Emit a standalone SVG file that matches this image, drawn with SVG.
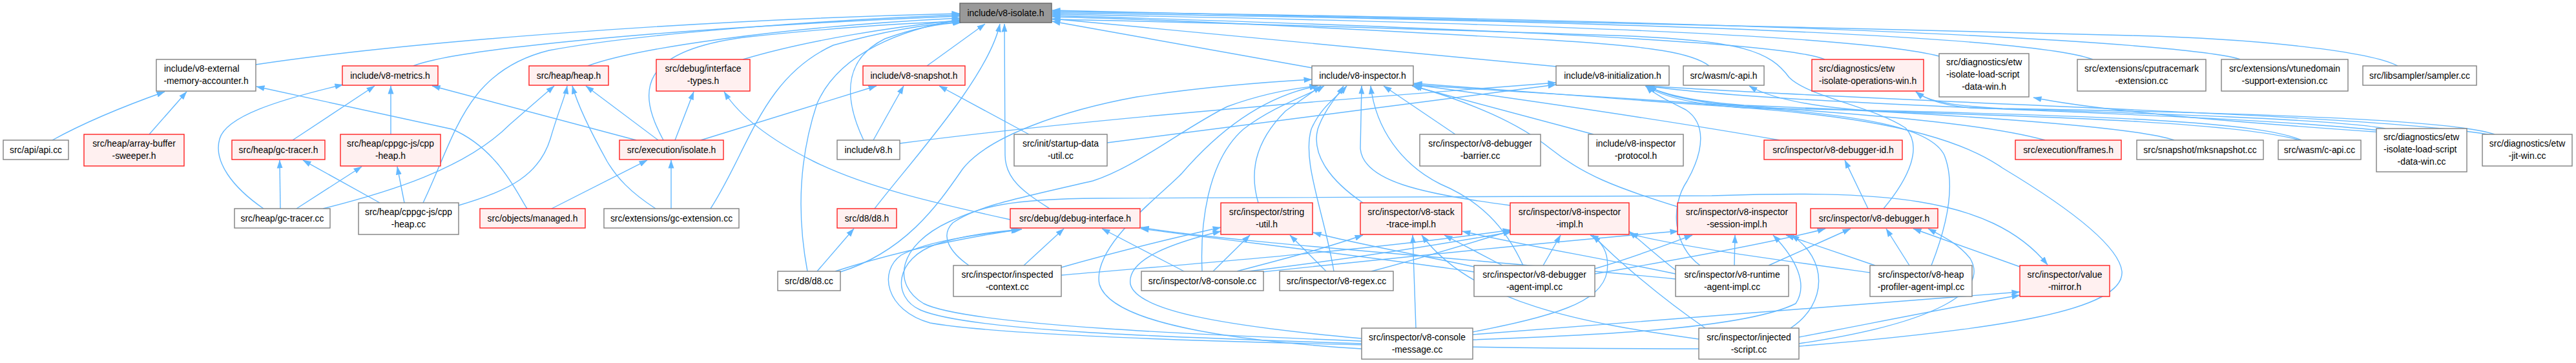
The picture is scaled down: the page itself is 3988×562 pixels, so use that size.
<svg xmlns="http://www.w3.org/2000/svg" width="3988" height="562" viewBox="0 0 3988 562">
<style>
.e path{fill:none;stroke:#63b8ff;stroke-width:1.4;marker-end:url(#ah)}
.n rect{fill:#ffffff;stroke:#808080;stroke-width:1.4}
.r rect{fill:#fff0f0;stroke:#ff2020;stroke-width:1.4}
.root rect{fill:#999999;stroke:#666666;stroke-width:1.4}
text{font-family:"Liberation Sans",Arial,sans-serif;font-size:13.9px;fill:#000;text-anchor:middle}
text.s{text-anchor:start}
</style>
<defs>
<marker id="ah" viewBox="0 0 13 10" refX="12.5" refY="5" markerWidth="13" markerHeight="10" markerUnits="userSpaceOnUse" orient="auto"><path d="M0,0.5 L13,5 L0,9.5 z" fill="#63b8ff"/></marker>
</defs>
<rect x="0" y="0" width="3988" height="562" fill="#ffffff"/>
<g id="edges" class="e">
<path d="M396,100 C650,62 1100,30 1486,21"/>
<path d="M640,102 C700,78 1000,45 1486,25"/>
<path d="M910,102 C980,76 1200,42 1486,28"/>
<path d="M1150,92 C1250,62 1380,42 1486,31"/>
<path d="M1027,217 C985,140 990,80 1150,58 C1300,42 1420,35 1487,33"/>
<path d="M655,314 C705,210 720,110 850,78 C1000,50 1300,30 1486,23"/>
<path d="M1100,323 C1160,230 1180,120 1290,70 C1380,45 1440,37 1487,34"/>
<path d="M1337,217 C1310,160 1300,95 1370,60 C1420,42 1460,36 1488,35"/>
<path d="M1435,102 L1525,37"/>
<path d="M1354,323 C1410,250 1530,120 1548,37"/>
<path d="M1625,323 C1590,300 1556,280 1556,240 L1555,37"/>
<path d="M1250,420 C1235,340 1235,250 1265,160 C1300,80 1400,45 1487,30"/>
<path d="M2031,105 L1629,33"/>
<path d="M2410,103 L1629,29"/>
<path d="M2646,102 C2620,82 2560,72 2400,62 C2100,45 1800,30 1629,26"/>
<path d="M2825,92 C2780,72 2500,50 1629,24"/>
<path d="M3002,87 C2900,60 2500,38 1629,22"/>
<path d="M3240,92 C3180,70 2900,38 1629,20"/>
<path d="M3468,92 C3420,74 3000,35 1629,18"/>
<path d="M3712,102 C3670,80 3500,60 3300,55 C2700,40 2000,22 1629,16"/>
<path d="M2916,323 C2960,270 2975,225 2950,198 C2900,165 2800,150 2770,120 C2740,80 2700,62 2500,55 C2200,45 1900,35 1629,30"/>
<path d="M81,217 C130,190 190,165 255,142"/>
<path d="M231,208 L289,142"/>
<path d="M453,217 L580,133"/>
<path d="M605,208 L605,133"/>
<path d="M985,217 L669,133"/>
<path d="M408,323 C360,290 330,250 340,215 C350,180 430,155 531,131"/>
<path d="M434,323 L433,248"/>
<path d="M588,314 L469,248"/>
<path d="M459,323 L560,258"/>
<path d="M626,314 L615,258"/>
<path d="M500,323 C600,298 720,262 790,192 L858,133"/>
<path d="M710,318 C790,295 835,270 852,215 C865,170 875,150 878,133"/>
<path d="M1015,323 C975,297 955,275 940,250 C915,205 895,165 886,133"/>
<path d="M1019,217 L907,133"/>
<path d="M816,323 C800,298 770,230 700,200 L397,134"/>
<path d="M854,323 L1002,248"/>
<path d="M1039,323 L1039,248"/>
<path d="M1045,217 L1074,142"/>
<path d="M1085,217 L1357,133"/>
<path d="M1564,340 C1450,315 1340,290 1260,250 C1190,215 1145,180 1121,142"/>
<path d="M1352,217 L1399,133"/>
<path d="M1593,208 L1454,133"/>
<path d="M1301,421 C1400,390 1450,320 1490,262 C1530,210 1650,170 1760,150 C1860,135 1960,127 2031,123"/>
<path d="M1393,222 C1700,182 2100,152 2409,128"/>
<path d="M1714,221 C1900,195 2200,160 2409,131"/>
<path d="M1265,420 L1322,354"/>
<path d="M1293,420 C1380,392 1480,370 1580,355"/>
<path d="M1585,411 L1647,354"/>
<path d="M1643,414 C1720,392 1800,372 1890,352"/>
<path d="M1643,426 C1800,412 2100,390 2339,356"/>
<path d="M1500,411 C1470,390 1455,365 1475,345 C1510,320 1570,308 1692,280 C1760,258 1830,200 1900,165 C1960,143 2010,136 2040,133"/>
<path d="M1833,420 L1706,354"/>
<path d="M1878,420 L1935,364"/>
<path d="M1861,420 C1858,350 1868,250 1925,200 C1970,165 2030,145 2050,133"/>
<path d="M1915,420 C1990,400 2050,385 2110,364"/>
<path d="M1925,421 C2100,400 2250,375 2340,359"/>
<path d="M1935,423 C2200,395 2450,370 2598,358"/>
<path d="M2053,420 L1997,364"/>
<path d="M2065,420 C2050,330 2015,250 2030,200 C2045,165 2070,150 2085,133"/>
<path d="M2123,420 C2200,400 2280,375 2340,357"/>
<path d="M2326,411 L2236,364"/>
<path d="M2389,411 L2416,364"/>
<path d="M2469,416 C2540,395 2590,375 2620,364"/>
<path d="M2358,411 C2330,350 2290,310 2230,285 C2170,255 2130,200 2122,133"/>
<path d="M2282,421 C2100,395 1900,372 1766,354"/>
<path d="M2282,413 C2200,395 2100,378 2033,360"/>
<path d="M2469,424 C2620,398 2760,372 2826,354"/>
<path d="M2685,411 L2686,364"/>
<path d="M2738,411 L2865,354"/>
<path d="M2594,418 C2570,400 2548,380 2522,358"/>
<path d="M2594,424 C2480,400 2350,378 2264,358"/>
<path d="M2594,432 C2300,402 1900,375 1766,352"/>
<path d="M2632,411 C2590,380 2585,320 2612,280 C2640,230 2640,190 2610,170 C2580,155 2560,145 2548,133"/>
<path d="M2956,411 L2920,354"/>
<path d="M2903,411 L2765,364"/>
<path d="M2895,422 C2750,402 2600,382 2523,362"/>
<path d="M2990,411 C3010,360 3030,290 3010,240 C2990,200 2900,180 2700,165 C2500,150 2300,140 2189,131"/>
<path d="M3127,413 L2962,354"/>
<path d="M2108,528 C1900,520 1500,505 1430,470 C1380,440 1390,380 1470,343 C1520,320 1560,308 1700,307 L2650,303 C2900,295 3080,300 3170,410"/>
<path d="M2280,518 C2600,495 2900,470 3127,452"/>
<path d="M2280,526 C2450,520 2700,510 2780,470 C2800,440 2780,400 2745,364"/>
<path d="M2785,522 C2900,500 3050,470 3127,457"/>
<path d="M2772,508 C2830,470 2830,400 2773,364"/>
<path d="M2785,532 C3000,500 3080,450 3050,400 C3030,375 3000,362 2985,354"/>
<path d="M2785,536 C3100,510 3290,480 3285,420 C3280,380 3200,320 3100,260 C3000,190 2800,172 2600,160 L2189,129"/>
<path d="M2630,525 C2450,500 2280,470 2201,364"/>
<path d="M2640,508 C2570,460 2500,400 2466,364"/>
<path d="M2280,514 C2400,490 2480,470 2488,420 C2492,390 2478,372 2462,364"/>
<path d="M2192,508 L2187,364"/>
<path d="M2108,532 C1800,522 1500,512 1425,480 C1380,460 1385,400 1450,378 C1500,362 1550,358 1582,355"/>
<path d="M2630,540 C2300,540 1600,528 1440,500 C1370,480 1360,420 1395,395 C1440,370 1540,360 1578,356"/>
<path d="M2108,524 C1900,505 1760,482 1750,440 C1744,400 1820,375 1890,358"/>
<path d="M2108,540 C1900,527 1720,500 1702,440 C1690,380 1800,300 1830,268 C1880,210 1950,150 2040,133"/>
<path d="M1948,314 C1935,270 1940,222 1990,172 L2045,133"/>
<path d="M2110,314 C2060,280 2030,240 2040,200 C2050,170 2070,150 2080,133"/>
<path d="M2338,318 C2200,300 2110,280 2106,230 L2108,133"/>
<path d="M2597,320 C2500,290 2450,270 2400,230 C2350,190 2280,160 2189,133"/>
<path d="M2892,323 L2856,248"/>
<path d="M2755,217 C2600,190 2400,160 2189,131"/>
<path d="M2253,208 L2142,133"/>
<path d="M2467,208 L2186,133"/>
<path d="M3166,217 C3050,185 2800,172 2650,160 C2600,152 2570,145 2552,133"/>
<path d="M3366,217 C3300,195 3000,175 2700,163 C2620,157 2575,146 2549,133"/>
<path d="M3563,217 C3500,190 3300,178 2700,167 C2620,162 2572,148 2547,133"/>
<path d="M3560,217 C3450,185 3050,178 2900,172 C2800,165 2740,152 2708,133"/>
<path d="M3693,199 C3600,182 3200,172 3050,167 C3000,162 2980,152 2966,142"/>
<path d="M3690,205 C3500,192 3250,172 3148,151"/>
<path d="M3686,202 C3400,172 2800,167 2548,133"/>
<path d="M3862,208 C3800,186 3500,175 3100,168 C3000,163 2978,152 2966,142"/>
<path d="M3862,210 C3700,178 3000,162 2549,133"/>
</g>
<g id="n_root" class="root"><rect x="1486" y="5" width="142" height="30"/><text x="1557" y="24.7">include/v8-isolate.h</text></g>
<g id="n_acc" class="n"><rect x="242" y="92" width="154" height="49"/><text class="s" x="254" y="111">include/v8-external</text><text x="319" y="130">-memory-accounter.h</text></g>
<g id="n_metrics" class="r"><rect x="530" y="102" width="148" height="30"/><text x="604" y="121.7">include/v8-metrics.h</text></g>
<g id="n_heap" class="r"><rect x="819" y="102" width="123" height="30"/><text x="880.5" y="121.7">src/heap/heap.h</text></g>
<g id="n_itypes" class="r"><rect x="1016" y="92" width="145" height="49"/><text x="1088.5" y="111">src/debug/interface</text><text x="1088.5" y="130">-types.h</text></g>
<g id="n_snap" class="r"><rect x="1336" y="102" width="158" height="30"/><text x="1415" y="121.7">include/v8-snapshot.h</text></g>
<g id="n_insp" class="n"><rect x="2031" y="102" width="157" height="30"/><text x="2109.5" y="121.7">include/v8-inspector.h</text></g>
<g id="n_init" class="n"><rect x="2409" y="102" width="175" height="30"/><text x="2496.5" y="121.7">include/v8-initialization.h</text></g>
<g id="n_wasmh" class="n"><rect x="2606" y="102" width="125" height="30"/><text x="2668.5" y="121.7">src/wasm/c-api.h</text></g>
<g id="n_etwops" class="r"><rect x="2805" y="92" width="173" height="49"/><text class="s" x="2816" y="111">src/diagnostics/etw</text><text x="2891.5" y="130">-isolate-operations-win.h</text></g>
<g id="n_etwlsh" class="n"><rect x="3002" y="83" width="139" height="67"/><text class="s" x="3013" y="100.7">src/diagnostics/etw</text><text class="s" x="3013" y="119.7">-isolate-load-script</text><text x="3071.5" y="138.7">-data-win.h</text></g>
<g id="n_cputm" class="n"><rect x="3216" y="92" width="199" height="49"/><text x="3315.5" y="111">src/extensions/cputracemark</text><text x="3315.5" y="130">-extension.cc</text></g>
<g id="n_vtune" class="n"><rect x="3439" y="92" width="196" height="49"/><text x="3537" y="111">src/extensions/vtunedomain</text><text x="3537" y="130">-support-extension.cc</text></g>
<g id="n_sampler" class="n"><rect x="3658" y="102" width="176" height="30"/><text x="3746" y="121.7">src/libsampler/sampler.cc</text></g>
<g id="n_api" class="n"><rect x="5" y="217" width="101" height="30"/><text x="55.5" y="236.7">src/api/api.cc</text></g>
<g id="n_abs" class="r"><rect x="130" y="208" width="155" height="49"/><text x="207.5" y="227">src/heap/array-buffer</text><text x="207.5" y="246">-sweeper.h</text></g>
<g id="n_gch" class="r"><rect x="359" y="217" width="144" height="30"/><text x="431" y="236.7">src/heap/gc-tracer.h</text></g>
<g id="n_cpph" class="r"><rect x="527" y="208" width="155" height="49"/><text x="604.5" y="227">src/heap/cppgc-js/cpp</text><text x="604.5" y="246">-heap.h</text></g>
<g id="n_iso" class="r"><rect x="959" y="217" width="161" height="30"/><text x="1039.5" y="236.7">src/execution/isolate.h</text></g>
<g id="n_v8h" class="n"><rect x="1296" y="217" width="97" height="30"/><text x="1344.5" y="236.7">include/v8.h</text></g>
<g id="n_sdu" class="n"><rect x="1570" y="208" width="144" height="49"/><text x="1642" y="227">src/init/startup-data</text><text x="1642" y="246">-util.cc</text></g>
<g id="n_dbar" class="n"><rect x="2198" y="208" width="187" height="49"/><text x="2291.5" y="227">src/inspector/v8-debugger</text><text x="2291.5" y="246">-barrier.cc</text></g>
<g id="n_iproto" class="n"><rect x="2459" y="208" width="147" height="49"/><text x="2532.5" y="227">include/v8-inspector</text><text x="2532.5" y="246">-protocol.h</text></g>
<g id="n_dbgid" class="r"><rect x="2731" y="217" width="214" height="30"/><text x="2838" y="236.7">src/inspector/v8-debugger-id.h</text></g>
<g id="n_frames" class="r"><rect x="3120" y="217" width="164" height="30"/><text x="3202" y="236.7">src/execution/frames.h</text></g>
<g id="n_mks" class="n"><rect x="3308" y="217" width="196" height="30"/><text x="3406" y="236.7">src/snapshot/mksnapshot.cc</text></g>
<g id="n_wasmcc" class="n"><rect x="3527" y="217" width="128" height="30"/><text x="3591" y="236.7">src/wasm/c-api.cc</text></g>
<g id="n_etwlscc" class="n"><rect x="3679" y="199" width="140" height="67"/><text class="s" x="3690" y="216.7">src/diagnostics/etw</text><text class="s" x="3690" y="235.7">-isolate-load-script</text><text x="3749" y="254.7">-data-win.cc</text></g>
<g id="n_jit" class="n"><rect x="3843" y="208" width="139" height="49"/><text x="3912.5" y="227">src/diagnostics/etw</text><text x="3912.5" y="246">-jit-win.cc</text></g>
<g id="n_gccc" class="n"><rect x="363" y="323" width="148" height="30"/><text x="437" y="342.7">src/heap/gc-tracer.cc</text></g>
<g id="n_cppcc" class="n"><rect x="555" y="314" width="155" height="49"/><text x="632.5" y="333">src/heap/cppgc-js/cpp</text><text x="632.5" y="352">-heap.cc</text></g>
<g id="n_managed" class="r"><rect x="743" y="323" width="163" height="30"/><text x="824.5" y="342.7">src/objects/managed.h</text></g>
<g id="n_gcext" class="n"><rect x="935" y="323" width="209" height="30"/><text x="1039.5" y="342.7">src/extensions/gc-extension.cc</text></g>
<g id="n_d8h" class="r"><rect x="1296" y="323" width="92" height="30"/><text x="1342" y="342.7">src/d8/d8.h</text></g>
<g id="n_dbgi" class="r"><rect x="1564" y="323" width="201" height="30"/><text x="1664.5" y="342.7">src/debug/debug-interface.h</text></g>
<g id="n_sutil" class="r"><rect x="1890" y="314" width="142" height="49"/><text x="1961" y="333">src/inspector/string</text><text x="1961" y="352">-util.h</text></g>
<g id="n_stack" class="r"><rect x="2106" y="314" width="157" height="49"/><text x="2184.5" y="333">src/inspector/v8-stack</text><text x="2184.5" y="352">-trace-impl.h</text></g>
<g id="n_iimpl" class="r"><rect x="2338" y="314" width="184" height="49"/><text x="2430" y="333">src/inspector/v8-inspector</text><text x="2430" y="352">-impl.h</text></g>
<g id="n_sess" class="r"><rect x="2597" y="314" width="184" height="49"/><text x="2689" y="333">src/inspector/v8-inspector</text><text x="2689" y="352">-session-impl.h</text></g>
<g id="n_dbg" class="r"><rect x="2803" y="323" width="197" height="30"/><text x="2901.5" y="342.7">src/inspector/v8-debugger.h</text></g>
<g id="n_d8cc" class="n"><rect x="1204" y="420" width="97" height="30"/><text x="1252.5" y="439.7">src/d8/d8.cc</text></g>
<g id="n_ictx" class="n"><rect x="1476" y="411" width="167" height="48"/><text x="1559.5" y="430">src/inspector/inspected</text><text x="1559.5" y="449">-context.cc</text></g>
<g id="n_cons" class="n"><rect x="1767" y="420" width="189" height="30"/><text x="1861.5" y="439.7">src/inspector/v8-console.cc</text></g>
<g id="n_regex" class="n"><rect x="1981" y="420" width="176" height="30"/><text x="2069" y="439.7">src/inspector/v8-regex.cc</text></g>
<g id="n_dagent" class="n"><rect x="2282" y="411" width="187" height="48"/><text x="2375.5" y="430">src/inspector/v8-debugger</text><text x="2375.5" y="449">-agent-impl.cc</text></g>
<g id="n_ragent" class="n"><rect x="2594" y="411" width="175" height="48"/><text x="2681.5" y="430">src/inspector/v8-runtime</text><text x="2681.5" y="449">-agent-impl.cc</text></g>
<g id="n_hpa" class="n"><rect x="2895" y="411" width="158" height="48"/><text x="2974" y="430">src/inspector/v8-heap</text><text x="2974" y="449">-profiler-agent-impl.cc</text></g>
<g id="n_vmir" class="r"><rect x="3127" y="411" width="139" height="48"/><text x="3196.5" y="430">src/inspector/value</text><text x="3196.5" y="449">-mirror.h</text></g>
<g id="n_cmsg" class="n"><rect x="2108" y="508" width="172" height="48"/><text x="2194" y="527">src/inspector/v8-console</text><text x="2194" y="546">-message.cc</text></g>
<g id="n_inj" class="n"><rect x="2630" y="508" width="155" height="48"/><text x="2707.5" y="527">src/inspector/injected</text><text x="2707.5" y="546">-script.cc</text></g>
</svg>
